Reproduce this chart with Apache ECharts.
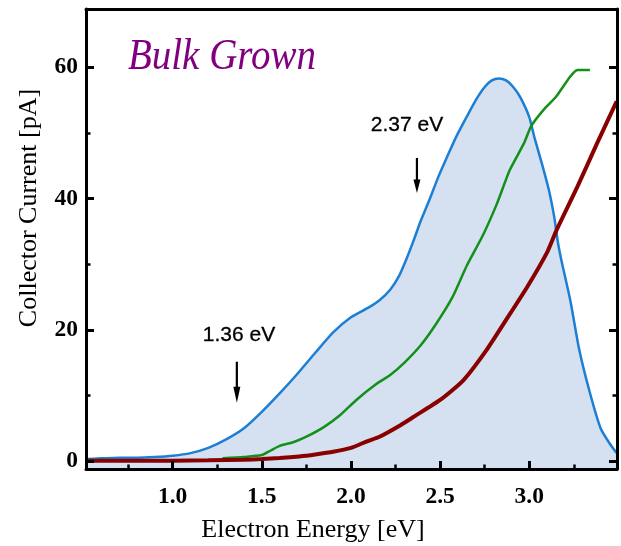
<!DOCTYPE html>
<html>
<head>
<meta charset="utf-8">
<script src="https://cdn.jsdelivr.net/npm/echarts@6/dist/echarts.min.js"></script>
<style>
  html, body { margin: 0; padding: 0; background: #fff; }
  #chart { width: 621px; height: 546px; }
</style>
</head>
<body>
<div id="chart"></div>
<script>
// blue curve (filled), green curve, dark red curve
const blueEnergy = [0.52, 0.6, 0.7, 0.8, 0.9, 1.0, 1.1, 1.2, 1.3, 1.4, 1.5, 1.6, 1.7, 1.8, 1.9, 2.0, 2.1, 2.16, 2.22, 2.27, 2.31, 2.35, 2.39, 2.44, 2.49, 2.54, 2.59, 2.65, 2.7, 2.75, 2.79, 2.83, 2.87, 2.91, 2.95, 3.0, 3.03, 3.07, 3.11, 3.14, 3.16, 3.18, 3.23, 3.28, 3.34, 3.4, 3.45, 3.49];
const blueCurrent = [0.3, 0.4, 0.5, 0.5, 0.6, 0.8, 1.2, 2.0, 3.3, 5.0, 7.5, 10.3, 13.3, 16.5, 19.6, 21.9, 23.4, 24.5, 26.1, 28.2, 30.7, 33.5, 36.5, 39.8, 43.3, 46.4, 49.4, 52.5, 55.0, 57.0, 58.0, 58.3, 58.0, 57.0, 55.4, 52.4, 49.2, 45.4, 41.3, 37.2, 33.4, 30.6, 24.5, 17.0, 10.4, 5.0, 2.7, 1.2];

const greenEnergy = [1.28, 1.4, 1.5, 1.55, 1.6, 1.68, 1.75, 1.85, 1.94, 2.03, 2.14, 2.22, 2.3, 2.39, 2.48, 2.57, 2.65, 2.74, 2.82, 2.89, 2.97, 3.01, 3.08, 3.15, 3.23, 3.27, 3.34];
const greenCurrent = [0.4, 0.6, 0.9, 1.6, 2.3, 2.9, 3.7, 5.2, 7.0, 9.3, 11.7, 13.1, 15.0, 17.6, 21.0, 25.0, 29.8, 34.4, 39.3, 44.3, 48.4, 51.0, 53.5, 55.5, 58.6, 59.6, 59.6];

const redEnergy = [0.52, 0.8, 1.0, 1.2, 1.4, 1.5, 1.6, 1.71, 1.8, 1.9, 2.0, 2.09, 2.16, 2.28, 2.35, 2.5, 2.63, 2.76, 2.87, 2.99, 3.1, 3.15, 3.27, 3.38, 3.49];
const redCurrent = [0.05, 0.05, 0.05, 0.1, 0.2, 0.3, 0.45, 0.7, 1.0, 1.4, 2.0, 3.0, 3.7, 5.5, 6.7, 9.3, 12.3, 16.9, 21.5, 26.6, 31.8, 35.0, 41.8, 48.4, 54.8];

// ticks
const xMajor = [1.0, 1.5, 2.0, 2.5, 3.0];
const xMinor = [0.75, 1.25, 1.75, 2.25, 2.75, 3.25];
const yMajor = [0, 20, 40, 60];
const yMinor = [10, 30, 50];

// marked energies
const peakLabels = ['1.36 eV', '2.37 eV'];
const peakEnergy = [1.36, 2.37];

const X_MIN = 0.514, X_MAX = 3.492;
const Y_MIN = -1.22, Y_MAX = 68.88;

const zip = (xs, ys) => xs.map((x, i) => [x, ys[i]]);

const chart = echarts.init(document.getElementById('chart'));

const tickFont = { fontFamily: 'Liberation Serif', fontWeight: 'bold', fontSize: 23.5, color: '#000' };

function xAx(extra) {
  return Object.assign({
    type: 'value', min: X_MIN, max: X_MAX, position: 'bottom', z: 5,
    splitLine: { show: false },
    axisLine: { show: false, onZero: false },
    axisTick: { show: false },
    axisLabel: { show: false }
  }, extra);
}
function yAx(extra) {
  return Object.assign({
    type: 'value', min: Y_MIN, max: Y_MAX, position: 'left', z: 5,
    splitLine: { show: false },
    axisLine: { show: false, onZero: false },
    axisTick: { show: false },
    axisLabel: { show: false }
  }, extra);
}
const frameLine = { show: true, onZero: false, lineStyle: { color: '#000', width: 3 } };

const option = {
  animation: false,
  backgroundColor: '#fff',
  grid: { left: 86, right: 4, top: 9, bottom: 77, containLabel: false },
  xAxis: [
    xAx({
      axisLine: frameLine,
      axisTick: { show: true, inside: true, length: 8, customValues: xMajor, lineStyle: { color: '#000', width: 3 } },
      axisLabel: Object.assign({ show: true, margin: 16, customValues: xMajor, formatter: v => v.toFixed(1) }, tickFont)
    }),
    xAx({
      axisTick: { show: true, inside: true, length: 4.5, customValues: xMinor, lineStyle: { color: '#000', width: 2.5 } }
    }),
    xAx({ position: 'top', axisLine: frameLine })
  ],
  yAxis: [
    yAx({
      axisLine: frameLine,
      axisTick: { show: true, inside: true, length: 8, customValues: yMajor, lineStyle: { color: '#000', width: 3 } },
      axisLabel: Object.assign({ show: true, margin: 8, customValues: yMajor, formatter: v => String(v) }, tickFont)
    }),
    yAx({
      axisTick: { show: true, inside: true, length: 4.5, customValues: yMinor, lineStyle: { color: '#000', width: 2.5 } }
    }),
    yAx({
      position: 'right',
      axisLine: frameLine,
      axisTick: { show: true, inside: true, length: 8, customValues: yMajor, lineStyle: { color: '#000', width: 3 } }
    }),
    yAx({
      position: 'right',
      axisTick: { show: true, inside: true, length: 4.5, customValues: yMinor, lineStyle: { color: '#000', width: 2.5 } }
    })
  ],
  series: [
    {
      type: 'line', name: 'blue', data: zip(blueEnergy, blueCurrent),
      showSymbol: false, smooth: 0.2, z: 2,
      lineStyle: { color: '#1c7fd4', width: 2.5 },
      areaStyle: { color: '#d5e1f0', opacity: 1, origin: 'start' }
    },
    {
      type: 'line', name: 'green', data: zip(greenEnergy, greenCurrent),
      showSymbol: false, smooth: 0.2, z: 3,
      lineStyle: { color: '#13901a', width: 2.5 }
    },
    {
      type: 'line', name: 'red', data: zip(redEnergy, redCurrent),
      showSymbol: false, smooth: 0.2, z: 4,
      lineStyle: { color: '#880000', width: 4 }
    },
    {
      // downward arrows marking the two energies
      type: 'scatter', name: 'arrows', silent: true, z: 6,
      data: [[peakEnergy[0], 12.0], [peakEnergy[1], 43.5]],
      symbol: 'path://M2.4,0 L4.6,0 L4.6,22 L7,22 L3.5,36 L0,22 L2.4,22 Z',
      symbolSize: (v, p) => p.dataIndex === 0 ? [7, 41] : [7, 35],
      itemStyle: { color: '#000', opacity: 1 }
    }
  ],
  graphic: [
    {
      type: 'text', x: 222, y: 58, scaleY: 1.12,
      style: { text: 'Bulk Grown', font: 'italic 39px "Liberation Serif"', fill: '#800080', align: 'center', verticalAlign: 'middle' }
    },
    {
      type: 'text', x: 239, y: 335,
      style: { text: peakLabels[0], font: '21px "Liberation Sans"', fill: '#000', stroke: '#000', lineWidth: 0.3, align: 'center', verticalAlign: 'middle' }
    },
    {
      type: 'text', x: 407, y: 125,
      style: { text: peakLabels[1], font: '21px "Liberation Sans"', fill: '#000', stroke: '#000', lineWidth: 0.3, align: 'center', verticalAlign: 'middle' }
    },
    {
      type: 'text', x: 313, y: 530,
      style: { text: 'Electron Energy [eV]', font: '26px "Liberation Serif"', fill: '#000', align: 'center', verticalAlign: 'middle' }
    },
    {
      type: 'text', x: 29, y: 208, rotation: Math.PI / 2,
      style: { text: 'Collector Current [pA]', font: '26px "Liberation Serif"', fill: '#000', align: 'center', verticalAlign: 'middle' }
    }
  ]
};

chart.setOption(option);
</script>
</body>
</html>
